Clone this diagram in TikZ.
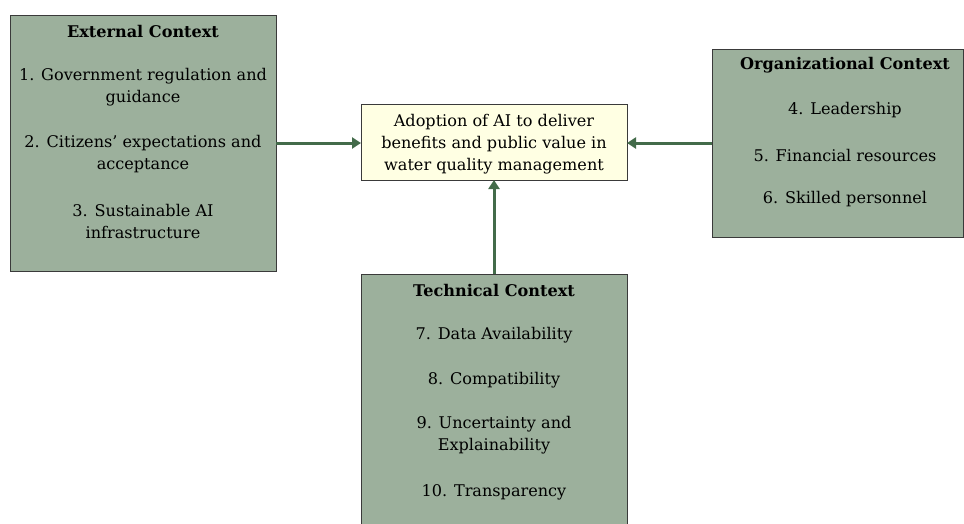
\documentclass[tikz,border=0pt]{standalone}
\usepackage{fontspec}
\setmainfont{DejaVu Serif}
\usetikzlibrary{arrows.meta}
\definecolor{boxgreen}{HTML}{9CB09C}
\definecolor{boxedge}{HTML}{3A3A3A}
\definecolor{arrowgreen}{HTML}{436B4A}
\definecolor{paleyellow}{HTML}{FFFFE3}
\tikzset{
  ctxbox/.style={draw=boxedge, line width=0.9pt, fill=boxgreen},
  goalbox/.style={draw=boxedge, line width=0.9pt, fill=paleyellow},
  txt/.style={align=center, font=\fontsize{16.1}{22}\selectfont, text=black, inner sep=0pt},
  ttl/.style={align=center, font=\fontsize{16.1}{22}\selectfont\bfseries, text=black, inner sep=0pt},
  flow/.style={draw=arrowgreen, line width=3pt, -{Triangle[length=9pt,width=11pt]}},
}
\begin{document}
\begin{tikzpicture}[x=1pt,y=-1pt]
\useasboundingbox (0,0) rectangle (964,523);
\clip (0,0) rectangle (964,523);
% boxes
\path[ctxbox] (10,15) rectangle (276,271);
\coordinate (extR) at (276,143);
\path[goalbox] (361,104) rectangle (627,180);
\coordinate (goalL) at (361,143);
\coordinate (goalR) at (627,143);
\coordinate (goalB) at (494,180);
\path[ctxbox] (712,49) rectangle (963,237);
\coordinate (orgL) at (712,143);
\path[ctxbox] (361,274) rectangle (627,540);
\coordinate (techT) at (494,274);
% texts
\node[ttl] (extT) at (143,31) {External Context};
\node[txt] (ext1) at (143,87) {1. Government regulation and\\guidance};
\node[txt] (ext2) at (143,154) {2. Citizens’ expectations and\\acceptance};
\node[txt] (ext3) at (143,221) {3. Sustainable AI\\infrastructure};
\node[txt] (goal) at (494,144) {Adoption of AI to deliver\\benefits and public value in\\water quality management};
\node[ttl] (orgT) at (845,65) {Organizational Context};
\node[txt] (org1) at (845,110) {4. Leadership};
\node[txt] (org2) at (845,155) {5. Financial resources};
\node[txt] (org3) at (845,199) {6. Skilled personnel};
\node[ttl] (techTt) at (494,290) {Technical Context};
\node[txt] (tech1) at (494,335) {7. Data Availability};
\node[txt] (tech2) at (494,380) {8. Compatibility};
\node[txt] (tech3) at (494,435) {9. Uncertainty and\\Explainability};
\node[txt] (tech4) at (494,492) {10. Transparency};
% arrows
\draw[flow] (extR) -- (goalL);
\draw[flow] (orgL) -- (goalR);
\draw[flow] (techT) -- (goalB);
\end{tikzpicture}
\end{document}
